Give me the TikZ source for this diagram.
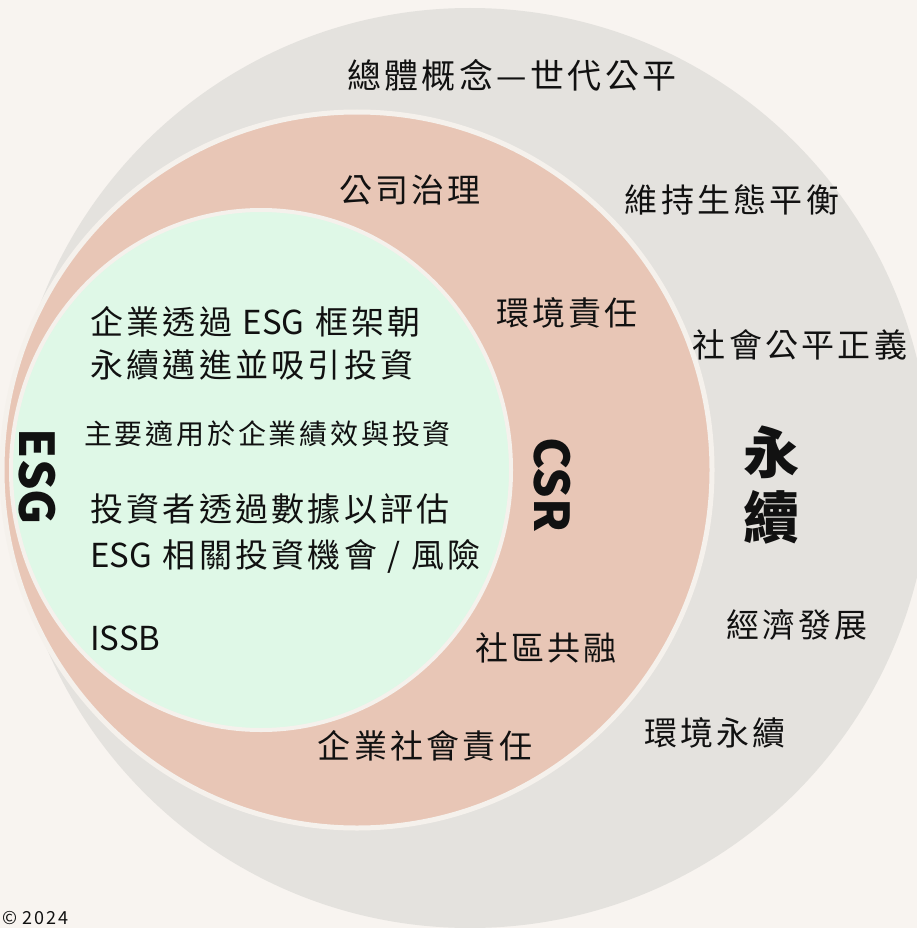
\documentclass[tikz,border=0pt]{standalone}
\usepackage{fontspec}
\setmainfont{Noto Sans CJK TC}[LetterSpace=10]
\newfontfamily\latn{Noto Sans CJK TC}
\usepackage{xcolor}
\usetikzlibrary{positioning}
\definecolor{cbg}{HTML}{F8F4F0}
\definecolor{cgrey}{HTML}{E4E2DE}
\definecolor{cpeach}{HTML}{E8C6B6}
\definecolor{cmint}{HTML}{DFF8E7}
\definecolor{crim}{HTML}{F5F1EC}
\definecolor{cbk}{HTML}{111111}

\begin{document}
\begin{tikzpicture}[x=1pt, y=-1pt]
    \useasboundingbox (0,0) rectangle (917,928);
    \clip (0,0) rectangle (917,928);
    \fill[cbg] (0,0) rectangle (917,928);
    \fill[cgrey] (470,468) circle[radius=460pt];
    \draw[crim, line width=5pt, fill=cpeach] (357,470) ellipse[x radius=355pt, y radius=358pt];
    \draw[crim, line width=4pt, fill=cmint] (261,470) ellipse[x radius=250pt, y radius=260pt];
    \begin{scope}[every node/.style={inner sep=0pt, text=cbk, font=\fontsize{33}{43}\selectfont}]
        \node (whole) [font=\fontsize{34}{40}\selectfont] at (512,75) {總體概念—世代公平};
        \node (gov) at (410,190) {公司治理};
        \node (eco) at (732,200) {維持生態平衡};
        \node (env) at (567,313) {環境責任};
        \node (just) at (800,345) {社會公平正義};
        \node (econ) at (797,625) {經濟發展};
        \node (comm) at (546,648) {社區共融};
        \node (envs) at (715,733) {環境永續};
        \node (csrt) at (425,746) {企業社會責任};
        \node (esg1) [anchor=west, align=left] at (90,343) {企業透過 {\latn ESG} 框架朝\\永續邁進並吸引投資};
        \node (esg2) [anchor=west, font=\fontsize{28}{34}\selectfont] at (84,434) {主要適用於企業績效與投資};
        \node (esg3) [anchor=west, align=left, font=\fontsize{33}{46}\selectfont] at (90,534) {投資者透過數據以評估\\{\latn ESG} 相關投資機會 / 風險};
        \node (issb) [anchor=west, font=\fontsize{33}{40}\selectfont\latn] at (90,638) {ISSB};
        \node (esg) [rotate=-90, font=\fontsize{48}{50}\selectfont\latn\bfseries] at (37,477) {ESG};
        \node (csr) [rotate=-90, font=\fontsize{48}{50}\selectfont\latn\bfseries] at (552,485) {CSR};
        \node (sus) [align=center, font=\fontsize{56}{65}\selectfont\bfseries] at (771,485) {永\\續};
        \node (copy) [anchor=south west, font=\fontsize{18}{22}\selectfont] at (2,925) {© 2024};
    \end{scope}
\end{tikzpicture}
\end{document}
